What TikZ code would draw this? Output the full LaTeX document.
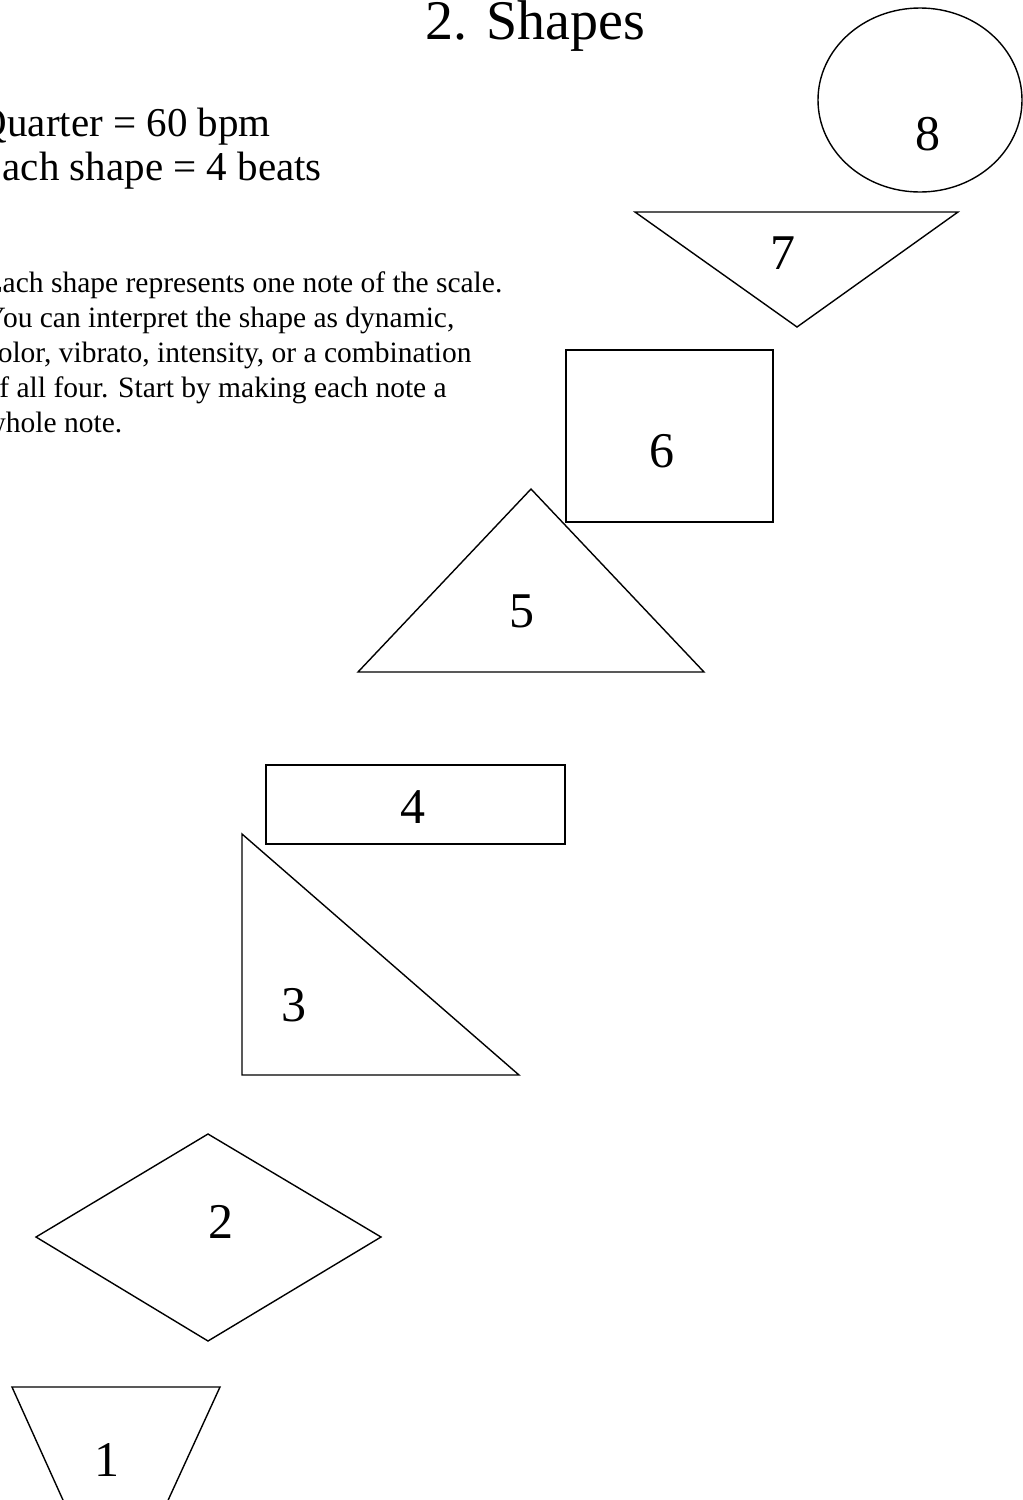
\documentclass[tikz,border=0pt]{standalone}
\usepackage{fontspec}
\setmainfont{Liberation Serif}
\begin{document}
\begin{tikzpicture}[x=1pt,y=-1pt,line width=1.4pt,
    txt/.style={inner sep=0pt,anchor=base west},
    lbl/.style={inner sep=0pt,anchor=base,font=\fontsize{50}{60}\selectfont}]
    \useasboundingbox (0,0) rectangle (1023,1500);
    \clip (0,0) rectangle (1023,1500);
    \node [txt,font=\fontsize{56}{66}\selectfont] (title) at (425,39) {2. Shapes};
    \node [txt,font=\fontsize{41}{48}\selectfont] (tempo) at (-23,136) {Quarter = 60 bpm};
    \node [txt,font=\fontsize{41}{48}\selectfont] (beats) at (-23,180) {Each shape = 4 beats};
    \foreach \t [count=\i] in {Each shape represents one note of the scale.,
        You can interpret the shape as dynamic{,},
        color{,} vibrato{,} intensity{,} or a combination,
        of all four. Start by making each note a,
        whole note.}
        \node [txt,font=\fontsize{29.5}{35}\selectfont] (line\i) at (-16,257+35*\i) {\t};
    \draw (920,100) ellipse [x radius=102,y radius=92];
    \draw (635,212) -- (958,212) -- (797,327) -- cycle;
    \draw (566,350) rectangle (773,522);
    \draw (531,489) -- (704,672) -- (358,672) -- cycle;
    \draw (266,765) rectangle (565,844);
    \draw (242,834) -- (519,1075) -- (242,1075) -- cycle;
    \draw (208,1134) -- (381,1237) -- (208,1341) -- (36,1237) -- cycle;
    \draw (12,1387) -- (220,1387) -- (159,1520) -- (72,1520) -- cycle;
    \node [lbl] (n8) at (928,150) {8};
    \node [lbl] (n7) at (783,269) {7};
    \node [lbl] (n6) at (662,467) {6};
    \node [lbl] (n5) at (522,627) {5};
    \node [lbl] (n4) at (413,823) {4};
    \node [lbl] (n3) at (294,1021) {3};
    \node [lbl] (n2) at (221,1238) {2};
    \node [lbl] (n1) at (107,1476) {1};
\end{tikzpicture}
\end{document}
